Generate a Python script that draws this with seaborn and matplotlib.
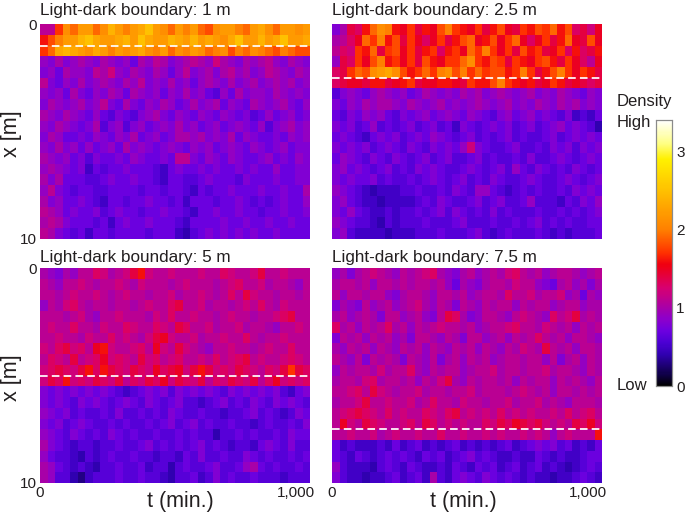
import numpy as np
import matplotlib
matplotlib.use("Agg")
import matplotlib.pyplot as plt
from matplotlib.colors import LinearSegmentedColormap
from matplotlib.transforms import ScaledTranslation
import seaborn as sns

# density, in tenths, 20 rows (0.5 m bins) by 36 time bins
density_1m = [
    [11,11,17,21,19,22,22,19,21,24,22,20,22,23,25,22,21,19,22,20,22,19,18,21,22,22,20,19,22,23,21,19,22,22,21,22],
    [16,18,20,22,22,24,25,23,22,22,23,24,22,25,23,22,22,24,23,22,24,22,23,22,21,23,25,22,22,24,22,23,25,22,22,23],
    [17,19,23,24,23,22,21,23,22,20,22,21,22,23,21,20,22,19,21,20,22,21,19,20,21,18,20,19,21,20,19,18,20,19,18,18],
    [9,8,10,8,9,10,9,8,10,9,8,9,7,10,9,11,10,8,9,10,11,10,9,12,10,9,8,10,9,10,11,9,8,10,9,8],
    [8,9,7,10,9,9,8,11,10,12,9,8,10,9,8,10,9,7,9,11,8,9,10,8,10,11,9,10,8,9,11,10,9,8,10,9],
    [11,8,7,9,8,10,8,9,10,9,8,10,9,11,8,9,8,10,8,9,7,9,10,9,8,10,8,9,10,8,9,10,9,10,8,9],
    [9,8,9,7,10,8,7,9,8,10,9,7,10,9,8,9,7,9,8,10,8,9,7,6,9,7,10,8,9,9,8,10,9,8,9,8],
    [8,10,9,8,9,10,8,9,11,8,7,10,8,7,9,8,10,9,7,8,10,8,9,10,7,9,8,7,10,9,8,9,10,8,7,9],
    [10,9,8,10,9,8,7,9,7,6,8,7,6,8,9,10,8,7,9,8,7,9,8,7,9,8,7,8,6,7,9,7,8,9,7,8],
    [9,8,10,9,8,7,8,10,6,8,9,6,8,9,7,8,9,8,10,8,9,7,8,9,7,8,9,8,7,9,6,8,9,10,8,9],
    [8,10,9,7,7,8,7,9,8,7,9,8,10,7,8,9,7,8,10,10,9,10,8,9,8,10,7,9,8,7,7,8,7,9,8,9],
    [9,8,10,8,9,7,9,7,8,9,7,10,8,9,8,7,8,9,8,7,9,8,9,7,8,9,8,7,9,8,7,8,9,7,8,8],
    [10,9,8,9,7,8,6,8,7,7,8,7,9,8,7,7,8,7,11,11,8,7,9,8,7,9,8,7,7,8,9,7,8,7,9,8],
    [9,10,9,8,7,8,5,7,6,7,7,8,7,7,7,6,5,7,8,7,7,8,7,8,7,7,8,7,8,7,7,9,7,7,8,8],
    [10,8,10,7,7,7,6,6,7,8,7,7,8,7,7,6,5,7,7,6,6,7,8,7,7,7,6,8,7,7,7,8,7,7,8,8],
    [9,11,8,7,6,7,7,6,6,7,7,7,7,6,7,7,6,7,7,6,5,7,6,7,7,8,7,7,7,8,7,7,8,7,7,10],
    [10,8,9,7,7,8,7,6,5,7,7,6,7,7,8,7,7,6,7,5,7,7,7,6,7,7,8,7,6,7,6,7,8,7,7,9],
    [11,10,9,7,8,7,7,8,6,7,8,7,7,6,7,7,8,7,7,6,5,7,7,8,7,7,8,7,7,6,7,7,8,7,7,8],
    [10,11,10,8,7,7,7,6,7,5,7,8,7,7,8,7,7,7,6,5,7,7,7,7,8,7,7,8,7,7,8,7,7,8,7,7],
    [11,10,8,7,6,7,5,7,7,6,7,7,7,7,6,7,7,7,5,4,6,7,8,7,8,7,8,7,8,7,7,8,7,7,7,7],
]

density_2_5m = [
    [8,10,14,13,16,19,21,20,16,15,17,14,16,15,18,20,17,16,15,17,14,16,18,15,14,17,16,18,17,19,16,18,13,14,12,15],
    [10,11,13,15,19,17,20,16,18,14,17,15,13,15,17,14,16,18,19,15,16,18,15,17,19,15,13,15,17,14,16,19,15,14,18,15],
    [11,13,12,17,16,19,14,17,18,15,17,14,16,17,13,16,17,15,19,17,20,17,15,17,14,18,16,17,14,15,17,13,16,13,14,16],
    [9,14,13,17,15,18,20,16,17,15,17,14,18,16,15,17,17,19,21,17,16,18,17,14,17,16,15,17,18,16,14,17,15,13,11,15],
    [13,14,17,19,18,21,22,23,21,18,16,17,19,17,20,21,18,20,17,19,17,18,18,16,17,20,17,14,16,18,20,17,15,17,16,14],
    [13,14,15,15,14,16,16,14,15,16,17,14,15,15,16,16,15,14,17,16,16,18,20,17,16,15,16,14,15,17,16,14,15,14,13,14],
    [6,8,9,8,7,9,10,9,8,9,7,8,10,9,8,9,8,10,9,10,8,9,10,9,8,9,10,8,9,8,10,9,8,7,9,8],
    [8,7,9,8,10,9,10,10,9,8,10,9,8,9,10,8,9,8,9,10,9,8,9,10,8,9,8,10,9,8,10,9,10,8,9,8],
    [7,6,8,7,9,8,9,7,6,8,7,8,9,7,8,9,8,7,9,8,7,6,8,9,7,8,9,7,8,7,6,8,5,6,5,7],
    [8,7,8,6,7,9,6,7,6,7,8,6,7,8,6,7,5,8,7,6,7,8,7,8,6,7,8,6,7,8,9,7,8,7,6,4],
    [7,8,7,6,5,7,8,7,8,6,7,8,7,9,8,7,6,7,8,6,7,6,7,8,6,7,6,6,7,8,6,7,8,7,8,7],
    [8,7,8,7,8,6,7,8,7,6,8,7,6,8,7,8,7,9,12,8,7,6,6,7,8,6,6,7,6,8,7,8,6,8,7,8],
    [7,9,8,7,6,8,7,6,8,7,6,7,8,6,7,8,6,6,7,8,6,7,6,6,7,6,8,6,6,7,8,7,6,7,8,7],
    [8,9,7,8,7,6,7,8,6,7,6,8,7,8,7,6,6,7,8,7,6,7,8,6,9,7,6,8,7,6,7,6,8,7,6,7],
    [8,7,8,7,7,8,6,7,6,6,7,6,7,8,7,6,7,8,6,7,6,8,7,6,6,7,8,7,6,6,7,8,7,6,7,8],
    [9,8,7,6,5,4,5,5,5,6,6,7,6,6,7,6,8,7,6,9,9,7,6,5,6,7,6,7,6,6,7,6,8,7,8,7],
    [8,9,7,6,5,5,4,5,5,5,5,6,7,6,8,7,6,6,7,8,6,7,8,6,6,7,9,6,6,6,5,7,6,8,7,9],
    [8,7,9,7,6,5,5,6,5,6,6,7,6,7,8,6,8,7,6,7,6,8,6,7,6,6,6,7,6,6,7,6,7,6,7,8],
    [9,8,7,6,6,5,4,6,5,6,6,6,7,6,6,6,7,8,6,6,6,7,6,6,7,6,7,8,6,7,6,7,6,6,7,7],
    [8,9,6,5,5,5,5,4,5,5,5,6,6,6,7,6,6,6,7,8,6,5,6,7,6,6,6,7,6,5,6,5,6,6,6,7],
]

density_5m = [
    [10,9,8,10,9,11,11,13,12,10,11,12,14,16,12,11,11,12,11,11,11,12,11,11,13,12,11,11,12,14,11,11,12,11,11,11],
    [11,10,9,11,11,12,11,10,11,11,12,11,10,12,11,11,11,10,11,12,11,11,11,10,11,12,13,11,11,12,10,11,11,10,9,11],
    [11,11,10,11,12,11,11,12,11,10,11,12,11,11,10,11,11,12,10,11,11,12,11,10,11,13,11,14,12,11,11,10,11,11,10,11],
    [9,11,10,12,13,11,10,11,11,10,11,11,10,11,12,11,11,13,14,11,11,12,10,11,11,10,11,12,11,13,11,10,12,11,11,11],
    [11,11,11,10,11,12,10,9,11,11,12,11,11,11,10,12,11,13,11,11,12,11,11,10,11,12,11,11,10,11,11,12,13,14,11,11],
    [11,12,11,11,13,11,11,10,12,11,11,13,12,11,11,13,12,11,14,13,11,11,12,10,11,11,12,10,11,11,10,9,11,11,12,11],
    [11,11,12,11,11,10,12,11,11,13,11,12,11,10,12,14,15,12,11,11,12,10,11,11,12,11,11,13,11,10,11,11,12,11,11,11],
    [12,11,13,14,12,13,11,15,16,12,11,11,12,13,11,15,12,11,14,12,11,10,9,11,11,12,11,11,10,11,12,11,11,13,11,11],
    [11,13,12,11,14,11,12,13,15,12,13,12,11,14,12,13,11,12,13,11,11,12,11,13,11,12,13,14,11,12,11,11,12,13,12,11],
    [12,13,14,13,12,14,16,13,16,14,13,12,14,13,12,15,13,14,15,12,14,16,14,12,13,12,14,13,12,11,13,12,14,17,14,13],
    [12,14,13,16,12,13,12,14,13,12,14,11,13,12,14,13,15,12,14,13,12,14,11,13,12,14,13,12,14,11,13,15,12,13,12,13],
    [8,7,8,7,8,7,8,7,8,7,6,5,6,7,8,7,8,6,8,7,8,7,8,7,6,8,7,8,7,8,7,8,6,5,7,8],
    [8,7,8,7,6,8,7,8,7,6,7,8,7,6,8,7,6,7,8,6,6,5,6,7,8,6,7,6,8,7,6,8,7,8,7,6],
    [9,8,7,8,6,7,6,6,7,6,8,6,6,7,6,7,6,8,7,6,6,7,6,6,5,6,6,7,8,6,7,6,5,6,8,7],
    [8,7,8,6,7,8,7,6,6,7,6,7,6,6,7,6,7,8,6,7,8,6,7,6,6,7,6,6,5,6,7,6,6,7,6,8],
    [9,8,7,6,8,7,6,7,6,8,7,6,7,6,6,7,6,6,7,6,7,6,6,4,6,6,7,6,7,6,6,7,6,8,7,7],
    [10,8,7,6,5,6,6,5,6,6,7,6,6,7,8,6,7,6,7,6,7,8,6,7,6,5,6,6,5,7,8,7,6,8,6,6],
    [9,7,6,6,5,4,6,5,6,7,6,6,7,6,6,5,6,6,5,7,6,8,6,6,7,6,6,8,7,6,7,6,6,7,6,7],
    [10,9,7,6,5,6,5,4,6,6,7,6,6,7,5,6,6,4,6,7,6,6,7,8,6,6,7,9,10,7,6,7,6,6,7,6],
    [10,9,6,6,4,3,5,6,6,6,7,6,6,7,6,6,5,4,6,6,7,5,6,8,6,7,6,6,7,6,6,6,5,6,6,6],
]

density_7_5m = [
    [9,10,8,10,11,12,11,10,9,11,10,11,12,13,10,9,8,10,11,9,10,11,10,12,13,11,10,11,9,10,11,11,10,9,10,11],
    [10,11,11,10,11,9,11,11,10,11,10,11,11,10,11,9,7,10,9,8,10,11,11,10,12,11,11,9,8,7,10,11,9,10,8,10],
    [11,9,11,11,10,11,11,9,8,10,11,11,10,9,11,11,10,11,9,10,11,11,10,13,11,11,12,10,11,11,12,9,10,7,10,9],
    [8,10,9,8,11,9,10,11,9,10,11,12,10,9,11,10,8,11,10,9,11,10,11,11,9,11,10,11,11,9,10,11,11,9,10,10],
    [10,11,9,10,11,10,8,11,11,9,10,11,9,8,11,14,13,10,8,9,11,11,10,9,11,12,11,10,9,13,11,12,14,10,11,10],
    [13,10,11,9,11,10,11,13,10,11,9,11,10,11,12,11,11,10,11,9,10,11,11,12,13,11,11,10,12,11,10,11,9,11,10,11],
    [8,11,10,11,9,11,10,11,9,10,8,11,11,10,9,11,10,8,11,11,9,10,11,9,11,10,11,13,11,10,11,9,11,11,10,9],
    [10,9,11,10,11,9,11,10,9,11,10,11,9,11,10,9,11,10,11,9,11,10,9,11,10,12,11,10,14,11,10,11,9,11,11,10],
    [11,10,9,11,8,11,10,11,10,8,11,10,9,11,8,10,11,9,11,10,11,9,10,11,11,10,11,11,9,11,8,10,11,9,11,10],
    [9,11,10,11,11,10,12,10,11,11,13,10,9,11,10,11,11,9,10,11,11,12,10,11,11,10,11,11,12,10,11,11,10,9,11,10],
    [10,11,11,10,12,13,10,11,11,10,11,9,11,10,12,14,10,9,11,10,11,11,10,11,9,11,10,11,11,9,11,10,11,10,9,11],
    [11,11,12,13,11,14,12,11,10,11,11,12,10,11,11,10,11,11,12,10,11,11,11,10,11,12,11,10,11,9,11,11,10,11,10,11],
    [10,11,11,12,14,11,11,12,11,11,12,10,11,13,11,11,10,12,11,11,10,11,11,12,10,11,11,12,10,11,10,9,11,11,11,10],
    [11,12,13,14,13,12,11,13,11,12,11,11,13,12,11,13,14,11,12,11,12,11,13,11,12,11,12,11,11,12,11,13,11,12,13,11],
    [11,15,12,11,14,13,12,11,11,12,13,11,14,13,11,12,11,12,11,11,13,12,14,13,15,14,13,14,12,11,12,11,14,13,15,12],
    [11,11,12,11,11,12,10,11,12,11,11,12,11,11,13,11,11,12,11,11,12,11,12,11,11,12,11,12,11,9,11,12,11,11,11,16],
    [7,5,6,5,5,5,6,5,7,5,6,7,5,6,5,6,7,5,6,5,6,5,6,7,5,6,7,8,7,8,6,7,5,6,5,7],
    [7,6,5,7,6,5,6,7,6,7,6,5,7,6,7,5,6,7,8,6,7,6,5,5,6,5,5,7,6,5,6,5,5,6,7,7],
    [9,6,5,5,5,4,6,7,6,5,7,6,5,5,6,5,7,6,5,7,6,7,5,6,7,5,6,7,5,6,5,4,5,6,7,6],
    [8,6,5,5,4,5,5,6,7,5,6,7,5,10,6,5,7,8,7,6,8,7,6,7,6,5,6,5,5,4,5,5,6,7,6,5],
]

panel_titles = ["Light-dark boundary: 1 m", "Light-dark boundary: 2.5 m",
                "Light-dark boundary: 5 m", "Light-dark boundary: 7.5 m"]
panel_data = [density_1m, density_2_5m, density_5m, density_7_5m]
boundaries = [1, 2.5, 5, 7.5]
cbar_ticks = [0, 1, 2, 3]

sns.set_theme(style="white")
plt.rcParams["font.family"] = ["Liberation Sans", "DejaVu Sans"]
ink = "#231f20"

cmap = LinearSegmentedColormap.from_list("sunset", [
    (0 / 3.4, "#000000"), (0.15 / 3.4, "#10004a"), (0.4 / 3.4, "#3000b0"),
    (0.55 / 3.4, "#4c00d4"), (0.7 / 3.4, "#6c00e0"), (0.85 / 3.4, "#8c00cc"),
    (1.0 / 3.4, "#a800a8"), (1.25 / 3.4, "#d80070"), (1.55 / 3.4, "#f00010"),
    (1.7 / 3.4, "#ff3000"), (2.0 / 3.4, "#ff8000"), (2.5 / 3.4, "#ffc000"),
    (2.9 / 3.4, "#fff000"), (3.1 / 3.4, "#ffff80"), (3.4 / 3.4, "#ffffff")])

W, H = 685, 513
fig = plt.figure(figsize=(W / 100, H / 100), dpi=100)
boxes = [(40, 24), (332, 24), (40, 268), (332, 268)]
xlabel_pos = {2: 0.519, 3: 0.485}
cax = fig.add_axes([656 / W, 1 - 386 / H, 16 / W, 266 / H])

for i, (data, title, b) in enumerate(zip(panel_data, panel_titles, boundaries)):
    x0, y0 = boxes[i]
    ax = fig.add_axes([x0 / W, 1 - (y0 + 215) / H, 270 / W, 215 / H])
    grid = np.array(data) / 10
    sns.heatmap(grid, ax=ax, cmap=cmap, vmin=0, vmax=3.4, xticklabels=False,
                yticklabels=False, cbar=i == 0, cbar_ax=cax if i == 0 else None)
    ax.axhline(b * 2, color="white", lw=1.25, dashes=(4.4, 2.4))
    ax.set_title(title, loc="left", fontsize=12.3, color=ink, pad=6.6 if i < 2 else 4.4)
    ax.tick_params(length=0, pad=2)
    if i % 2 == 0:
        ax.set_yticks([0, grid.shape[0]], ["0", "10"], fontsize=11, color=ink)
        ax.set_ylabel("x [m]", fontsize=15.5, color=ink)
        ax.yaxis.set_label_coords(-0.067, 0.49)
    if i >= 2:
        ax.set_xticks([0, grid.shape[1]], ["0", "1,000"], fontsize=11, color=ink)
        end_label = ax.get_xticklabels()[1]
        end_label.set_ha("right")
        end_label.set_transform(end_label.get_transform()
                                + ScaledTranslation(5 / 100, 0, fig.dpi_scale_trans))
        ax.set_xlabel("t (min.)", fontsize=15.5, color=ink)
        ax.xaxis.set_label_coords(xlabel_pos[i], -0.035)

cax.set_yticks(cbar_ticks, [str(t) for t in cbar_ticks], fontsize=11, color=ink)
cax.tick_params(length=0, pad=3)
for s in cax.spines.values():
    s.set_visible(True)
    s.set_color("#8a8a8a")
    s.set_linewidth(0.8)
fig.text(617 / W, 1 - 101.5 / H, "Density", fontsize=12, color=ink, va="center")
fig.text(617 / W, 1 - 122.5 / H, "High", fontsize=12, color=ink, va="center")
fig.text(617 / W, 1 - 385.5 / H, "Low", fontsize=12, color=ink, va="center")

fig.savefig("out.png", dpi=100)
